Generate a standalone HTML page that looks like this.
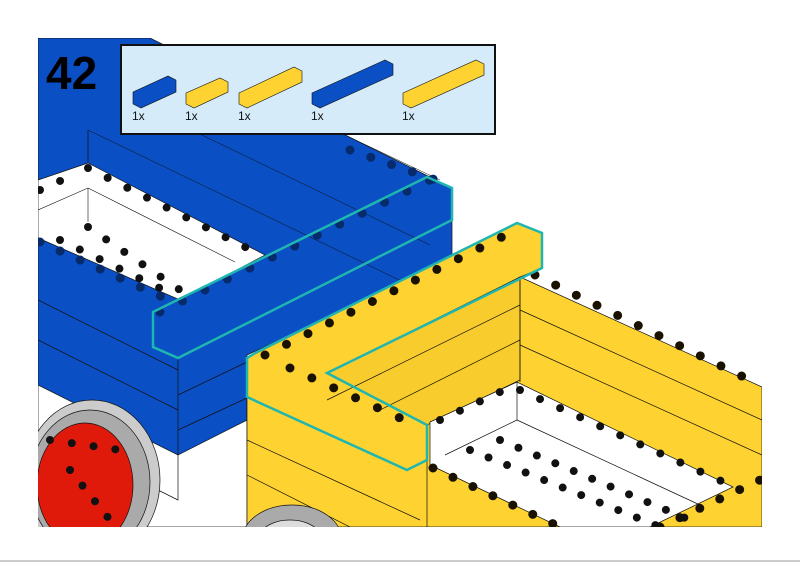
<!DOCTYPE html>
<html><head><meta charset="utf-8"><style>
html,body{margin:0;padding:0;background:#fff;}
body{width:800px;height:566px;overflow:hidden;position:relative;font-family:"Liberation Sans",sans-serif;}
</style></head><body>
<svg width="800" height="566" viewBox="0 0 800 566" style="position:absolute;left:0;top:0">
<defs><clipPath id="c"><rect x="38" y="38" width="724" height="489"/></clipPath></defs>
<g clip-path="url(#c)" stroke="#111" stroke-width="0.7">
<polygon points="38,380 178,453 247,420 247,527 38,527" fill="#fff"/>
<polygon points="130,430 178,453 178,500 130,476" fill="#fff"/>
<polygon points="38,38 150,38 452,188 452,260 247,355 247,420 178,455 38,385" fill="#0a4fc4"/>
<line x1="38" y1="300" x2="178" y2="370"/><line x1="38" y1="340" x2="178" y2="410"/>
<line x1="178" y1="358" x2="178" y2="455"/>
<line x1="178" y1="395" x2="247" y2="362"/><line x1="178" y1="430" x2="247" y2="398"/>
<line x1="88" y1="130" x2="420" y2="290" stroke-width="0.5"/>
<line x1="150" y1="110" x2="430" y2="245" stroke-width="0.5"/>
<line x1="250" y1="90" x2="440" y2="180" stroke-width="0.5"/>
<line x1="88" y1="130" x2="88" y2="165"/>
<!-- white interior of blue -->
<polygon points="38,180 88,163 265,255 180,300 38,238" fill="#fff"/>
<line x1="38" y1="210" x2="88" y2="188" stroke-width="0.6"/><line x1="88" y1="188" x2="88" y2="222" stroke-width="0.6"/>
<line x1="88" y1="188" x2="235" y2="262" stroke-width="0.6"/>
<polygon points="517,382 517,382 517,382" fill="none"/>
<!-- yellow body -->
<polygon points="247,358 517,223 542,233 542,268 520,277 762,387 762,527 247,527" fill="#fdd231"/>
<polygon points="327,373 520,277 520,380 427,425" fill="#f8cc2c"/>
<line x1="520" y1="277" x2="520" y2="382"/>
<line x1="327" y1="400" x2="520" y2="305"/><line x1="380" y1="410" x2="520" y2="340"/>
<line x1="520" y1="310" x2="762" y2="420"/><line x1="520" y1="345" x2="762" y2="455"/>
<line x1="247" y1="440" x2="420" y2="520"/><line x1="247" y1="475" x2="350" y2="527"/>
<line x1="427" y1="460" x2="427" y2="527"/>
<polygon points="430,422 517,382 733,487 650,527 560,527 430,465" fill="#fff"/>
<line x1="517" y1="382" x2="517" y2="420"/>
<line x1="445" y1="455" x2="517" y2="420"/><line x1="517" y1="420" x2="700" y2="505"/>
<!-- wheels -->
<ellipse cx="92" cy="480" rx="68" ry="80" fill="#ccc"/>
<ellipse cx="90" cy="482" rx="60" ry="72" fill="#aaa"/>
<ellipse cx="85" cy="485" rx="48" ry="62" fill="#e01a0a"/>
<ellipse cx="292" cy="540" rx="50" ry="35" fill="#aaa"/>
<ellipse cx="290" cy="545" rx="35" ry="25" fill="#ddd"/>
</g>
<g fill="none" stroke-linecap="round" clip-path="url(#c)">
<line x1="160" y1="312" x2="430" y2="180" stroke="#062a6a" stroke-width="9" stroke-dasharray="0 25"/>
<line x1="40" y1="242" x2="180" y2="305" stroke="#062a6a" stroke-width="9" stroke-dasharray="0 22"/>
<line x1="265" y1="355" x2="520" y2="228" stroke="#1a1200" stroke-width="9" stroke-dasharray="0 24"/>
<line x1="290" y1="368" x2="400" y2="418" stroke="#1a1200" stroke-width="9" stroke-dasharray="0 24"/>
<line x1="535" y1="275" x2="760" y2="385" stroke="#1a1200" stroke-width="9" stroke-dasharray="0 23"/>
<line x1="433" y1="468" x2="560" y2="527" stroke="#1a1200" stroke-width="9" stroke-dasharray="0 22"/>
<line x1="660" y1="527" x2="760" y2="480" stroke="#1a1200" stroke-width="9" stroke-dasharray="0 22"/>
<line x1="88" y1="168" x2="255" y2="252" stroke="#111" stroke-width="8" stroke-dasharray="0 22"/>
<line x1="40" y1="190" x2="80" y2="172" stroke="#111" stroke-width="8" stroke-dasharray="0 22"/>
<line x1="88" y1="227" x2="180" y2="290" stroke="#111" stroke-width="8" stroke-dasharray="0 22"/>
<line x1="60" y1="240" x2="170" y2="293" stroke="#111" stroke-width="8" stroke-dasharray="0 22"/>
<line x1="440" y1="420" x2="515" y2="385" stroke="#111" stroke-width="8" stroke-dasharray="0 22"/>
<line x1="520" y1="390" x2="730" y2="485" stroke="#111" stroke-width="8" stroke-dasharray="0 22"/>
<line x1="470" y1="450" x2="660" y2="527" stroke="#111" stroke-width="8" stroke-dasharray="0 20"/>
<line x1="500" y1="440" x2="690" y2="520" stroke="#111" stroke-width="8" stroke-dasharray="0 20"/>
<line x1="350" y1="150" x2="450" y2="185" stroke="#062a6a" stroke-width="9" stroke-dasharray="0 22"/>
<line x1="70" y1="470" x2="110" y2="520" stroke="#111" stroke-width="8" stroke-dasharray="0 20"/>
<line x1="50" y1="440" x2="120" y2="450" stroke="#111" stroke-width="8" stroke-dasharray="0 22"/>
</g>
<polygon points="153,312 427,177 452,188 452,220 178,358 153,347" fill="none" stroke="#1fb5b0" stroke-width="2.5"/>
<polygon points="257,352 517,223 542,233 542,268 327,373 427,425 427,460 407,470 247,397 247,358" fill="none" stroke="#1fb5b0" stroke-width="2.5"/>
<rect x="121" y="45" width="374" height="89" fill="#d5ebfa" stroke="#111" stroke-width="2"/>
<g stroke="#111" stroke-width="0.6">
<polygon points="133,92 168,76 176,80 176,92 141,108 133,104" fill="#0a4fc4"/>
<polygon points="186,93 220,78 228,82 228,92 194,108 186,104" fill="#fdd231"/>
<polygon points="239,93 294,67 302,71 302,82 247,108 239,104" fill="#fdd231"/>
<polygon points="312,93 385,60 393,64 393,75 320,108 312,104" fill="#0a4fc4"/>
<polygon points="403,93 476,60 484,64 484,75 411,108 403,104" fill="#fdd231"/>
</g>
<g font-size="12" fill="#111" font-family="Liberation Sans,sans-serif">
<text x="132" y="120">1x</text><text x="185" y="120">1x</text><text x="238" y="120">1x</text><text x="311" y="120">1x</text><text x="402" y="120">1x</text>
</g>
<text x="46" y="89" font-size="46" font-weight="bold" fill="#000" font-family="Liberation Sans,sans-serif">42</text>
<line x1="0" y1="561" x2="800" y2="561" stroke="#ccc" stroke-width="2"/>
</svg>
</body></html>
